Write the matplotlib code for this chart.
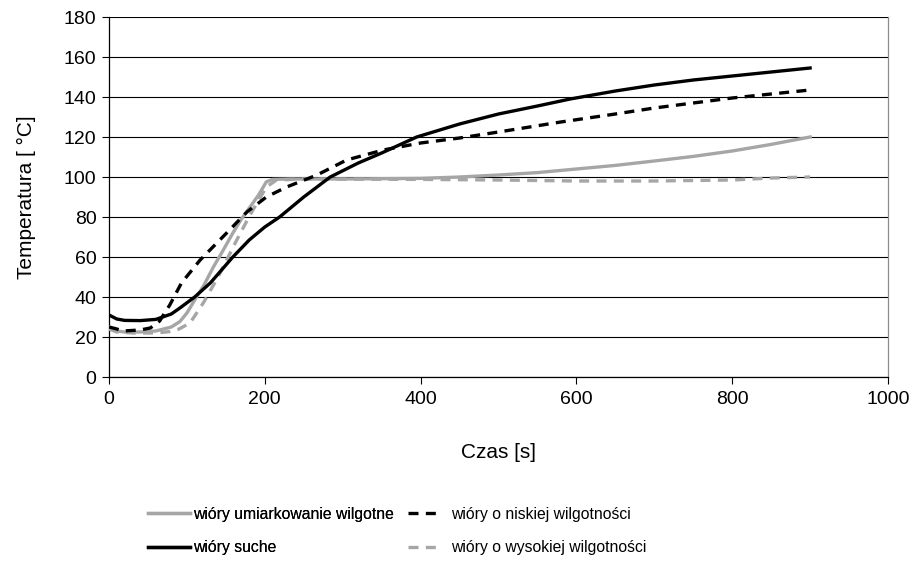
import matplotlib
matplotlib.use("Agg")
import matplotlib.pyplot as plt
from matplotlib.lines import Line2D

plt.rcParams['font.family'] = ['Liberation Sans', 'DejaVu Sans']

# --- data ---
t_umiark = [0, 10, 20, 40, 60, 80, 91, 100, 110, 122, 134, 146, 159, 170, 181, 192, 202, 210,
            230, 300, 400, 450, 500, 550, 600, 650, 700, 750, 800, 850, 900]
T_umiark = [25, 23, 22.5, 22.5, 23, 25, 27.7, 32, 38.5, 46, 55, 63, 72, 79, 85, 91, 97.6, 98.8,
            99, 99, 99.3, 100, 101, 102.2, 104, 105.8, 108, 110.3, 113, 116.3, 120]

t_suche = [0, 10, 20, 40, 60, 80, 91, 110, 130, 159, 180, 200, 219, 250, 284, 320, 350, 395,
           450, 500, 550, 592, 650, 700, 750, 800, 850, 900]
T_suche = [31, 29, 28.3, 28.2, 28.8, 31.5, 34.5, 40, 47, 60, 68.5, 75, 80, 90, 100, 107, 112, 120,
           126.5, 131.5, 135.5, 139, 143, 146, 148.5, 150.5, 152.5, 154.5]

t_nisk = [0, 10, 18, 40, 53, 65, 78, 93, 117, 151, 177, 202, 228, 267, 305, 352, 400, 450, 500,
          580, 650, 700, 800, 850, 900]
T_nisk = [25, 24, 23, 23.5, 24.5, 28, 36, 47, 58.5, 72, 82.5, 90, 95, 101, 108.5, 113.5, 117,
          119.5, 122.5, 127.5, 131.5, 134.5, 139.5, 141.5, 143.5]

t_wys = [0, 10, 30, 60, 78, 90, 104, 121, 140, 164, 181, 202, 215, 250, 400, 500, 600, 700, 800,
         850, 900]
T_wys = [24, 22.5, 22, 22, 22.7, 24, 27, 37, 50, 68.5, 81, 95, 98.5, 99, 98.8, 98.5, 98, 98,
         98.5, 99.5, 100]

labels = ["wióry umiarkowanie wilgotne", "wióry suche",
          "wióry o niskiej wilgotności", "wióry o wysokiej wilgotności"]

x_ticks = [0, 200, 400, 600, 800, 1000]
y_ticks = [0, 20, 40, 60, 80, 100, 120, 140, 160, 180]

GRAY = "#A6A6A6"
LW = 2.4
DASH = (0, (3.0, 2.2))
FS_TICK = 14
FS_LABEL = 15
FS_LEG = 11.3

fig = plt.figure(figsize=(9.18, 5.81), dpi=100)
ax = fig.add_axes([109 / 918, (581 - 377) / 581, (888 - 109) / 918, (377 - 17) / 581])

ax.plot(t_umiark, T_umiark, color=GRAY, lw=LW, zorder=3)
ax.plot(t_suche, T_suche, color="black", lw=LW, zorder=4)
ax.plot(t_nisk, T_nisk, color="black", lw=LW, linestyle=DASH, zorder=5)
ax.plot(t_wys, T_wys, color=GRAY, lw=LW, linestyle=DASH, zorder=3)

ax.set_xlim(0, 1000)
ax.set_ylim(0, 180)
ax.set_xticks(x_ticks)
ax.set_yticks(y_ticks)
ax.yaxis.grid(True, color="black", lw=0.8)
ax.set_axisbelow(True)
ax.tick_params(axis='both', direction='out', length=5, width=0.8, labelsize=FS_TICK, colors="black")
ax.tick_params(axis='x', pad=5)
ax.tick_params(axis='y', pad=4)

for s in ['left', 'bottom']:
    ax.spines[s].set_color('black')
    ax.spines[s].set_linewidth(0.9)
ax.spines['right'].set_color('#8C8C8C')
ax.spines['right'].set_linewidth(0.9)
ax.spines['top'].set_visible(False)

ax.set_xlabel("Czas [s]", fontsize=FS_LABEL, labelpad=25)
ax.set_ylabel("Temperatura [ °C]", fontsize=FS_LABEL, labelpad=20)

h_left = [Line2D([], [], color=GRAY, lw=LW),
          Line2D([], [], color="black", lw=LW)]
h_right = [Line2D([], [], color="black", lw=LW, linestyle=DASH),
           Line2D([], [], color=GRAY, lw=LW, linestyle=DASH)]

yc = (581 - 531) / 581
leg1 = fig.legend(h_left, labels[:2], loc='center left', bbox_to_anchor=(148 / 918, yc),
                  frameon=False, fontsize=FS_LEG, handlelength=2.7, handletextpad=0.2,
                  labelspacing=1.15, borderpad=0, borderaxespad=0)
fig.add_artist(leg1)
fig.legend(h_right, labels[2:], loc='center left', bbox_to_anchor=(408 / 918, yc),
           frameon=False, fontsize=FS_LEG, handlelength=1.8, handletextpad=0.95,
           labelspacing=1.15, borderpad=0, borderaxespad=0)

fig.savefig("out.png", dpi=100)
